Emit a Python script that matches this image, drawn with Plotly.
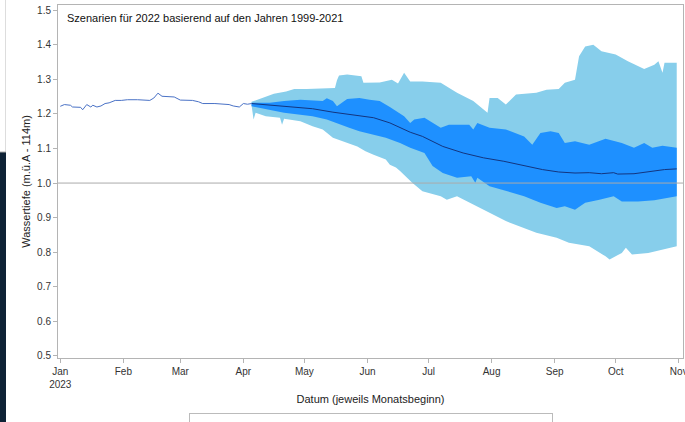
import plotly.graph_objects as go

# ---------------- data ----------------
obs_dates = ["2023-01-01", "2023-01-03", "2023-01-06", "2023-01-07", "2023-01-11", "2023-01-12",
             "2023-01-14", "2023-01-16", "2023-01-17", "2023-01-19", "2023-01-21", "2023-01-23",
             "2023-01-25", "2023-01-28", "2023-01-31", "2023-02-03", "2023-02-08", "2023-02-14",
             "2023-02-16", "2023-02-18", "2023-02-20", "2023-02-23", "2023-02-26", "2023-03-01",
             "2023-03-07", "2023-03-10", "2023-03-12", "2023-03-18", "2023-03-25", "2023-03-27",
             "2023-03-30", "2023-04-01", "2023-04-03", "2023-04-05"]
obs_vals = [1.222, 1.227, 1.225, 1.220, 1.219, 1.212,
            1.227, 1.220, 1.225, 1.220, 1.223, 1.230,
            1.232, 1.239, 1.239, 1.241, 1.241, 1.239,
            1.246, 1.260, 1.251, 1.250, 1.249, 1.240,
            1.239, 1.235, 1.230, 1.230, 1.227, 1.223,
            1.220, 1.230, 1.228, 1.230]

max_dates = ["2023-04-05", "2023-04-09", "2023-04-16", "2023-04-22", "2023-04-26", "2023-05-02",
             "2023-05-10", "2023-05-16", "2023-05-17", "2023-05-18", "2023-05-22", "2023-05-29",
             "2023-05-30", "2023-06-07", "2023-06-13", "2023-06-16", "2023-06-19", "2023-06-22",
             "2023-06-28", "2023-07-07", "2023-07-15", "2023-07-23", "2023-07-30", "2023-07-31",
             "2023-08-04", "2023-08-08", "2023-08-13", "2023-08-23", "2023-08-28", "2023-09-03",
             "2023-09-06", "2023-09-11", "2023-09-13", "2023-09-16", "2023-09-20", "2023-09-24",
             "2023-10-01", "2023-10-07", "2023-10-15", "2023-10-20", "2023-10-22", "2023-10-24",
             "2023-10-25", "2023-10-31"]
max_vals = [1.235, 1.243, 1.258, 1.265, 1.272, 1.272,
            1.274, 1.275, 1.297, 1.311, 1.314, 1.309,
            1.290, 1.291, 1.299, 1.288, 1.319, 1.294,
            1.294, 1.290, 1.261, 1.237, 1.203, 1.246,
            1.246, 1.227, 1.256, 1.261, 1.270, 1.272,
            1.290, 1.299, 1.367, 1.395, 1.400, 1.381,
            1.372, 1.352, 1.330, 1.342, 1.352, 1.319,
            1.348, 1.348]

min_dates = ["2023-04-05", "2023-04-06", "2023-04-07", "2023-04-12", "2023-04-19", "2023-04-20",
             "2023-04-21", "2023-04-29", "2023-05-05", "2023-05-10", "2023-05-15", "2023-05-20",
             "2023-05-27", "2023-05-31", "2023-06-04", "2023-06-10", "2023-06-12", "2023-06-15",
             "2023-06-17", "2023-06-23", "2023-06-28", "2023-07-07", "2023-07-10", "2023-07-15",
             "2023-07-23", "2023-07-31", "2023-08-08", "2023-08-17", "2023-08-23", "2023-09-02",
             "2023-09-08", "2023-09-18", "2023-09-26", "2023-09-28", "2023-10-04", "2023-10-06",
             "2023-10-09", "2023-10-17", "2023-10-24", "2023-10-31"]
min_vals = [1.225, 1.184, 1.203, 1.193, 1.189, 1.169,
            1.186, 1.179, 1.164, 1.155, 1.131, 1.121,
            1.106, 1.092, 1.082, 1.068, 1.053, 1.045,
            1.035, 1.001, 0.976, 0.962, 0.952, 0.962,
            0.938, 0.914, 0.890, 0.870, 0.856, 0.842,
            0.827, 0.817, 0.788, 0.779, 0.798, 0.813,
            0.793, 0.798, 0.808, 0.817]

q75_dates = ["2023-04-05", "2023-04-14", "2023-04-21", "2023-04-29", "2023-05-10", "2023-05-12",
             "2023-05-15", "2023-05-17", "2023-05-22", "2023-05-28", "2023-06-02", "2023-06-07",
             "2023-06-12", "2023-06-19", "2023-06-22", "2023-06-24", "2023-06-29", "2023-07-07",
             "2023-07-11", "2023-07-21", "2023-07-23", "2023-07-25", "2023-07-31", "2023-08-08",
             "2023-08-17", "2023-08-21", "2023-08-25", "2023-08-30", "2023-09-03", "2023-09-06",
             "2023-09-11", "2023-09-18", "2023-09-26", "2023-10-04", "2023-10-10", "2023-10-15",
             "2023-10-19", "2023-10-24", "2023-10-31"]
q75_vals = [1.232, 1.232, 1.237, 1.241, 1.237, 1.245,
            1.237, 1.222, 1.243, 1.246, 1.241, 1.237,
            1.220, 1.193, 1.174, 1.184, 1.189, 1.160,
            1.169, 1.169, 1.155, 1.174, 1.160, 1.155,
            1.135, 1.111, 1.145, 1.150, 1.145, 1.116,
            1.121, 1.111, 1.128, 1.116, 1.102, 1.116,
            1.102, 1.108, 1.102]

q25_dates = ["2023-04-05", "2023-04-13", "2023-04-21", "2023-04-29", "2023-05-05", "2023-05-12",
             "2023-05-19", "2023-05-23", "2023-05-28", "2023-06-04", "2023-06-10", "2023-06-12",
             "2023-06-17", "2023-06-22", "2023-06-29", "2023-07-03", "2023-07-08", "2023-07-15",
             "2023-07-22", "2023-07-24", "2023-07-25", "2023-07-31", "2023-08-09", "2023-08-17",
             "2023-08-25", "2023-09-02", "2023-09-06", "2023-09-11", "2023-09-16", "2023-09-23",
             "2023-09-30", "2023-10-04", "2023-10-12", "2023-10-20", "2023-10-31"]
q25_vals = [1.222, 1.213, 1.203, 1.198, 1.193, 1.184,
            1.169, 1.160, 1.150, 1.140, 1.131, 1.126,
            1.116, 1.102, 1.087, 1.049, 1.029, 1.015,
            1.020, 1.001, 1.015, 0.991, 0.976, 0.962,
            0.943, 0.928, 0.933, 0.923, 0.943, 0.952,
            0.962, 0.947, 0.947, 0.950, 0.962]

avg_dates = ["2023-04-05", "2023-04-16", "2023-04-25", "2023-05-05", "2023-05-15", "2023-05-25",
             "2023-06-04", "2023-06-12", "2023-06-17", "2023-06-22", "2023-06-28", "2023-07-08",
             "2023-07-18", "2023-07-28", "2023-08-07", "2023-08-17", "2023-08-26", "2023-09-03",
             "2023-09-11", "2023-09-18", "2023-09-24", "2023-09-30", "2023-10-02", "2023-10-10",
             "2023-10-20", "2023-10-25", "2023-10-31"]
avg_vals = [1.230, 1.224, 1.220, 1.215, 1.205, 1.198,
            1.189, 1.174, 1.160, 1.147, 1.135, 1.106,
            1.087, 1.073, 1.063, 1.051, 1.039, 1.032,
            1.029, 1.030, 1.027, 1.030, 1.026, 1.027,
            1.034, 1.039, 1.041]

month_ticks = ["2023-01-01", "2023-02-01", "2023-03-01", "2023-04-01", "2023-05-01", "2023-06-01",
               "2023-07-01", "2023-08-01", "2023-09-01", "2023-10-01", "2023-11-01"]
month_labels = ["Jan<br>2023", "Feb", "Mar", "Apr", "May", "Jun", "Jul", "Aug", "Sep", "Oct", "Nov"]
y_ticks = [0.5, 0.6, 0.7, 0.8, 0.9, 1.0, 1.1, 1.2, 1.3, 1.4, 1.5]

legend_names = ["Best/Worst Case", "Middle (25%-75%) Cases", "Average Case"]
title_text = "Szenarien für 2022 basierend auf den Jahren 1999-2021"

# ---------------- figure ----------------
FONT = "Liberation Sans, Arial, sans-serif"
LIGHT = "#87CEEB"
DARK = "#1E90FF"
AVG_C = "#13357f"
OBS_C = "#4a72c6"
AX_C = "#b4b4b4"

fig = go.Figure()
fig.add_trace(go.Scatter(x=max_dates + min_dates[::-1], y=max_vals + min_vals[::-1],
                         fill="toself", fillcolor=LIGHT, mode="lines",
                         line=dict(width=0, color=LIGHT), name=legend_names[0], hoverinfo="skip"))
fig.add_trace(go.Scatter(x=q75_dates + q25_dates[::-1], y=q75_vals + q25_vals[::-1],
                         fill="toself", fillcolor=DARK, mode="lines",
                         line=dict(width=0, color=DARK), name=legend_names[1], hoverinfo="skip"))
fig.add_trace(go.Scatter(x=avg_dates, y=avg_vals, mode="lines",
                         line=dict(width=1, color=AVG_C), name=legend_names[2]))
fig.add_trace(go.Scatter(x=obs_dates, y=obs_vals, mode="lines",
                         line=dict(width=1, color=OBS_C), showlegend=False))

W, H = 685, 422
ML, MR, MT, MB = 58, 2, 5, 64
PW, PH = W - ML - MR, H - MT - MB

def px_x(p):
    return (p - ML) / PW

def px_y(p):
    return (H - MB - p) / PH

fig.add_shape(type="line", xref="paper", yref="y", x0=0, x1=1, y0=1.0, y1=1.0,
              line=dict(color="#aaaaaa", width=1), layer="above")
# dark window strip visible on the left edge of the screenshot
fig.add_shape(type="rect", xref="paper", yref="paper", x0=px_x(0), x1=px_x(6),
              y0=px_y(422), y1=px_y(152), fillcolor="#0e2235", line=dict(width=0), layer="above")
fig.add_shape(type="line", xref="paper", yref="paper", x0=px_x(5.5), x1=px_x(5.5),
              y0=px_y(152), y1=px_y(0), line=dict(color="#dddddd", width=1), layer="above")
fig.add_shape(type="line", xref="paper", yref="paper", x0=px_x(0), x1=px_x(6),
              y0=px_y(152), y1=px_y(152), line=dict(color="#aaaaaa", width=1), layer="above")

fig.add_annotation(text=title_text, xref="paper", yref="paper", x=px_x(65), y=px_y(18),
                   xanchor="left", yanchor="middle", showarrow=False,
                   font=dict(family=FONT, size=11, color="#111111"))

fig.update_layout(
    width=W, height=H,
    margin=dict(l=ML, r=MR, t=MT, b=MB, autoexpand=False),
    paper_bgcolor="white", plot_bgcolor="white",
    font=dict(family=FONT, size=10, color="#333333"),
    showlegend=True,
    legend=dict(orientation="h", x=0.5, xanchor="center", y=px_y(413), yanchor="top",
                bordercolor="#bbbbbb", borderwidth=1, font=dict(family=FONT, size=9, color="#222222"),
                traceorder="normal", itemwidth=30, tracegroupgap=0),
    xaxis=dict(range=["2022-12-30 21:00", "2023-11-03 02:00"], type="date",
               tickvals=month_ticks, ticktext=month_labels, ticks="outside", ticklen=4,
               tickcolor=AX_C, showline=True, linecolor=AX_C, mirror=True, showgrid=False,
               zeroline=False, tickfont=dict(size=10, color="#333333"),
               ticklabeloverflow="allow",
               title=dict(text="Datum (jeweils Monatsbeginn)", standoff=6,
                          font=dict(size=11, color="#222222"))),
    yaxis=dict(range=[0.494, 1.515], tickvals=y_ticks, tickformat=".1f", ticks="outside",
               ticklen=4, tickcolor=AX_C, showline=True, linecolor=AX_C, mirror=True,
               showgrid=False, zeroline=False, tickfont=dict(size=10, color="#333333"),
               title=dict(text="Wassertiefe (m.ü.A - 114m)", standoff=4,
                          font=dict(size=11, color="#222222"))),
)

fig.write_html("out.html", config={"displayModeBar": False},
               post_script="document.body.style.margin='0';document.body.style.overflow='hidden';")
